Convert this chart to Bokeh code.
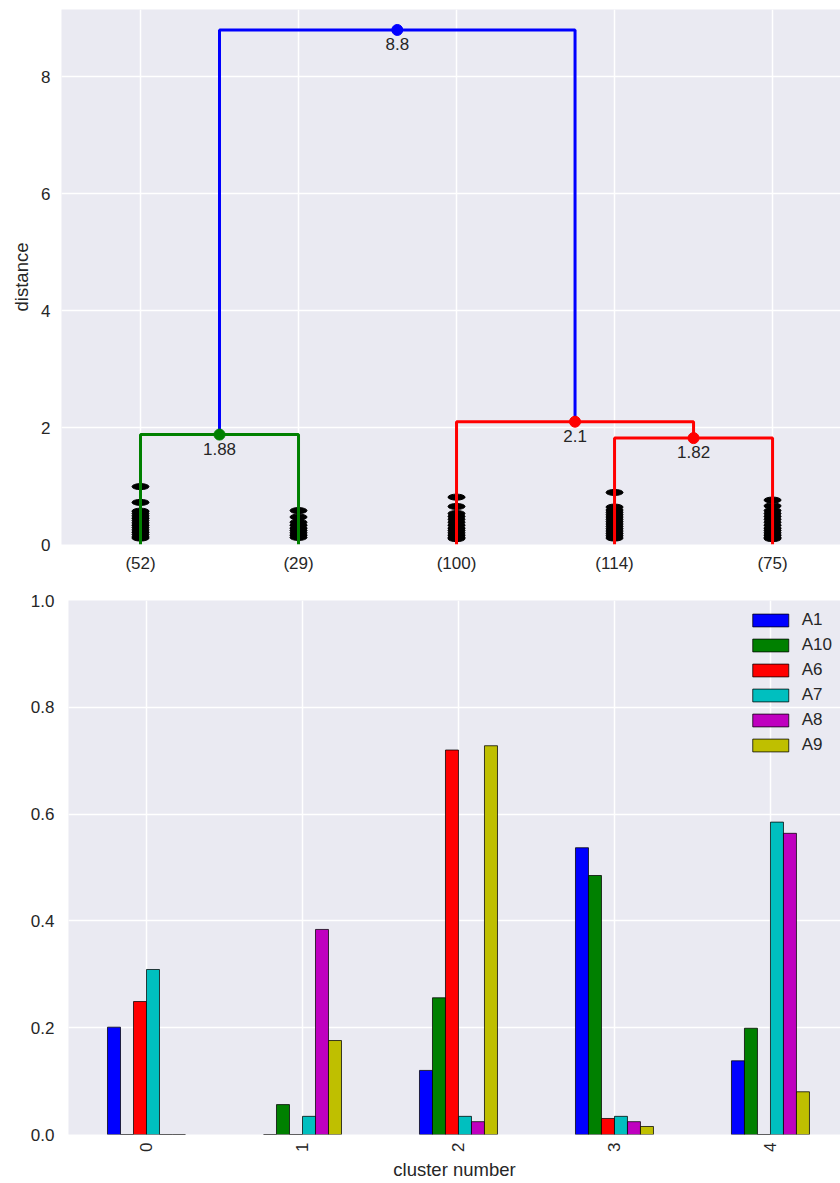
import math
from bokeh.plotting import figure
from bokeh.models import ColumnDataSource, FixedTicker, PrintfTickFormatter, Legend, LegendItem, Range1d
from bokeh.transform import dodge
from bokeh.embed import file_html
from bokeh.resources import INLINE
from bokeh.core.properties import value

# ---------------- dendrogram data ----------------
leaf_labels = ["(52)", "(29)", "(100)", "(114)", "(75)"]
leaf_pos = [5, 15, 25, 35, 45]
link_x = [[5, 5, 15, 15], [35, 35, 45, 45], [25, 25, 40, 40], [10, 10, 32.5, 32.5]]
link_y = [[0, 1.88, 1.88, 0], [0, 1.82, 1.82, 0], [0, 2.1, 2.1, 1.82], [1.88, 8.8, 8.8, 2.1]]
link_colors = ["#008000", "#FF0000", "#FF0000", "#0000FF"]
link_labels = ["1.88", "1.82", "2.1", "8.8"]

contracted_52 = [0.99, 0.72, 0.57, 0.53, 0.49, 0.45, 0.41, 0.37, 0.33, 0.29, 0.25, 0.21, 0.17, 0.13, 0.11]
contracted_29 = [0.58, 0.47, 0.38, 0.33, 0.28, 0.24, 0.20, 0.16, 0.12]
contracted_100 = [0.81, 0.65, 0.53, 0.48, 0.43, 0.38, 0.33, 0.28, 0.24, 0.20, 0.16, 0.12, 0.10]
contracted_114 = [0.89, 0.64, 0.59, 0.55, 0.51, 0.47, 0.43, 0.39, 0.35, 0.31, 0.27, 0.23, 0.19, 0.15, 0.11]
contracted_75 = [0.76, 0.66, 0.58, 0.53, 0.48, 0.43, 0.38, 0.33, 0.28, 0.24, 0.20, 0.16, 0.12, 0.10]
contracted = [contracted_52, contracted_29, contracted_100, contracted_114, contracted_75]

# ---------------- bar data ----------------
clusters = [0, 1, 2, 3, 4]
series_names = ["A1", "A10", "A6", "A7", "A8", "A9"]
A1 = [0.201, 0.0, 0.120, 0.537, 0.138]
A10 = [0.0, 0.056, 0.256, 0.485, 0.199]
A6 = [0.249, 0.0, 0.720, 0.030, 0.0]
A7 = [0.309, 0.034, 0.034, 0.034, 0.585]
A8 = [0.0, 0.384, 0.024, 0.024, 0.564]
A9 = [0.0, 0.176, 0.728, 0.015, 0.080]
series_colors = ["#0000FF", "#008000", "#FF0000", "#00BFBF", "#BF00BF", "#BFBF00"]

FONT = "Liberation Sans"
TXT = "#262626"
BG = "#EAEAF2"


def style(p):
    p.background_fill_color = BG
    p.border_fill_color = "white"
    p.outline_line_color = None
    for ax in (p.xaxis[0], p.yaxis[0]):
        ax.axis_line_color = None
        ax.major_tick_line_color = None
        ax.minor_tick_line_color = None
        ax.major_tick_out = 0
        ax.major_tick_in = 0
        ax.major_label_text_font = FONT
        ax.major_label_text_font_size = "17px"
        ax.major_label_text_color = TXT
        ax.axis_label_text_font = FONT
        ax.axis_label_text_font_size = "18.5px"
        ax.axis_label_text_color = TXT
        ax.axis_label_text_font_style = "normal"
    p.xgrid.grid_line_color = "white"
    p.ygrid.grid_line_color = "white"
    p.xgrid.grid_line_width = 1.5
    p.ygrid.grid_line_width = 1.5


# ---------------- top: dendrogram ----------------
p1 = figure(width=840, height=580, output_backend="svg", toolbar_location=None,
            x_range=Range1d(0, 49.3), y_range=Range1d(0, 9.15),
            min_border_left=61, min_border_right=0, min_border_top=9, min_border_bottom=36)
style(p1)
p1.xaxis.ticker = FixedTicker(ticks=leaf_pos)
p1.xaxis.major_label_overrides = {pos: lab for pos, lab in zip(leaf_pos, leaf_labels)}
p1.xaxis.major_label_standoff = 9
p1.yaxis.ticker = FixedTicker(ticks=[0, 2, 4, 6, 8])
p1.yaxis.major_label_standoff = 11
p1.yaxis.axis_label = "distance"
p1.yaxis.axis_label_standoff = 6

ex, ey = [], []
for pos, hs in zip(leaf_pos, contracted):
    for h in hs:
        ex.append(pos)
        ey.append(h)
p1.ellipse(x=ex, y=ey, width=17, height=6, width_units="screen", height_units="screen",
           fill_color="black", line_color="black")

p1.multi_line(xs=link_x, ys=link_y, line_color=link_colors, line_width=3)

dot_x = [(lx[1] + lx[2]) / 2 for lx in link_x]
dot_y = [ly[1] for ly in link_y]
p1.scatter(x=dot_x, y=dot_y, size=11, fill_color=link_colors, line_color=link_colors)
p1.text(x=dot_x, y=dot_y, text=link_labels, text_align="center", text_baseline="top",
        y_offset=8, text_font=value(FONT), text_font_size="17px", text_color=TXT)

# ---------------- bottom: bars ----------------
src = ColumnDataSource(dict(cluster=clusters, A1=A1, A10=A10, A6=A6, A7=A7, A8=A8, A9=A9))
p2 = figure(width=840, height=602, output_backend="svg", toolbar_location=None,
            x_range=Range1d(-0.5, 4.449), y_range=Range1d(0, 1.0),
            min_border_left=68, min_border_right=0, min_border_top=20, min_border_bottom=47)
style(p2)
p2.xaxis.ticker = FixedTicker(ticks=clusters)
p2.xaxis.major_label_orientation = math.pi / 2
p2.xaxis.major_label_standoff = 8
p2.xaxis.axis_label = "cluster number"
p2.xaxis.axis_label_standoff = 4
p2.yaxis.ticker = FixedTicker(ticks=[0, 0.2, 0.4, 0.6, 0.8, 1.0])
p2.yaxis.formatter = PrintfTickFormatter(format="%.1f")
p2.yaxis.major_label_standoff = 14

n = len(series_names)
bw = 0.5 / n
items = []
for i, (name, col) in enumerate(zip(series_names, series_colors)):
    off = (i - (n - 1) / 2) * bw
    r = p2.vbar(x=dodge("cluster", off), top=name, width=bw, bottom=0, source=src,
                fill_color=col, line_color="black", line_alpha=0.75, line_width=1)
    items.append(LegendItem(label=name, renderers=[r]))

leg = Legend(items=items, location="top_right")
leg.background_fill_alpha = 0
leg.border_line_color = None
leg.label_text_font = FONT
leg.label_text_font_size = "17px"
leg.label_text_color = TXT
leg.glyph_width = 45
leg.glyph_height = 16
leg.label_height = 24
leg.spacing = 1
leg.margin = 8
leg.padding = 7
leg.label_standoff = 9
p2.add_layout(leg)

open("out.html", "w").write(file_html([p1, p2], INLINE))
